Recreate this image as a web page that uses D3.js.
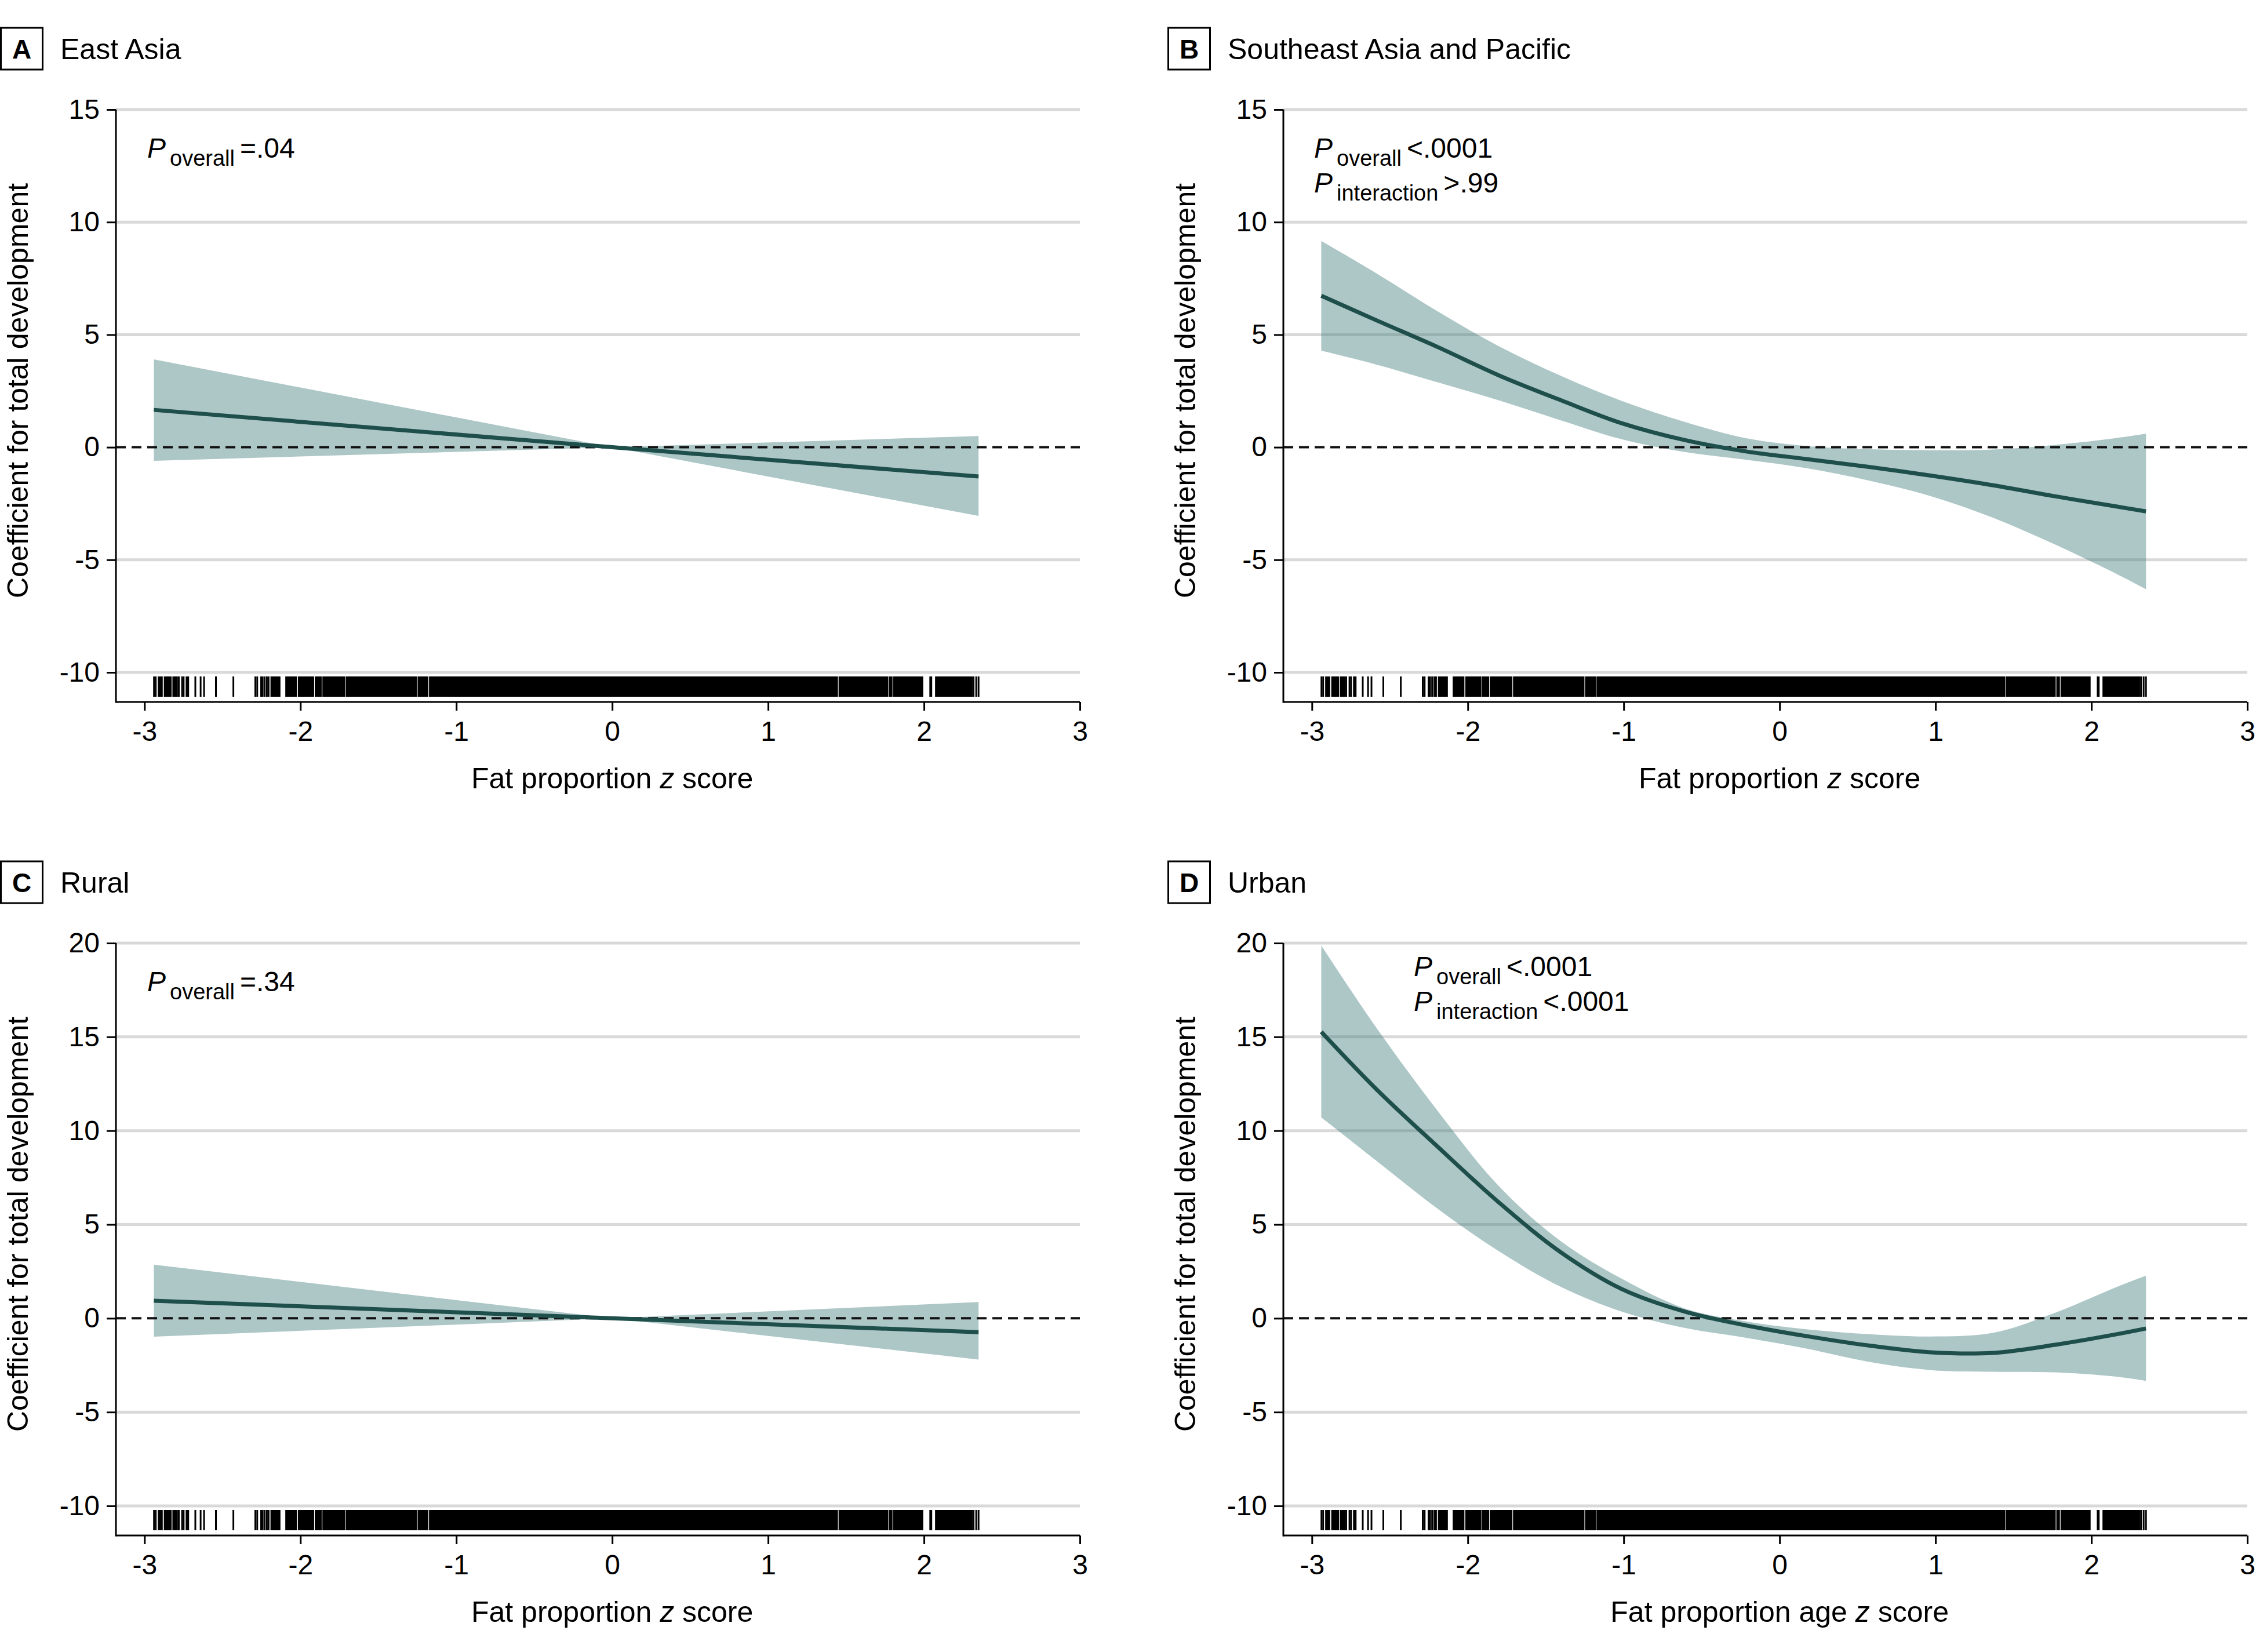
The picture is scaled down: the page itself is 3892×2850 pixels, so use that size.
<!DOCTYPE html>
<html><head><meta charset="utf-8">
<script src="https://cdn.jsdelivr.net/npm/d3@7"></script>
<style>
html,body{margin:0;padding:0;background:#fff;}
svg{display:block;}
text{font-family:"Liberation Sans", Arial, sans-serif; fill:#000;}
</style></head><body>
<svg id="chart" width="3892" height="2850"></svg>
<script>
// ---------------- DATA ----------------
const xTickValues = [-3, -2, -1, 0, 1, 2, 3];
const yTicksTop = [-10, -5, 0, 5, 10, 15];
const yTicksBottom = [-10, -5, 0, 5, 10, 15, 20];
const panelLetters = ["A", "B", "C", "D"];
const panelTitles = ["East Asia", "Southeast Asia and Pacific", "Rural", "Urban"];
const xTitleLead = ["Fat proportion ", "Fat proportion ", "Fat proportion ", "Fat proportion age "];
const yTitle = "Coefficient for total development";
const pOverall = ["=.04", "<.0001", "=.34", "<.0001"];
const pInteraction = [null, ">.99", null, "<.0001"];

// linear fits (panels A and C)
const xLinear = [-2.94, 0, 2.35];
const fitA  = [1.66, 0, -1.30];
const highA = [3.90, 0, 0.50];
const lowA  = [-0.60, 0, -3.05];
const fitC  = [0.94, 0, -0.74];
const highC = [2.86, 0, 0.87];
const lowC  = [-0.98, 0, -2.20];

// spline fits (panels B and D)
const xSpline = [-2.94, -2.59, -2.19, -1.80, -1.40, -1.01, -0.61, -0.22, 0.18, 0.58, 0.97, 1.37, 1.76, 2.16, 2.35];
const fitB  = [6.73, 5.65, 4.44, 3.19, 2.08, 1.06, 0.32, -0.18, -0.53, -0.88, -1.26, -1.69, -2.17, -2.63, -2.85];
const highB = [9.16, 7.74, 6.02, 4.48, 3.16, 2.05, 1.13, 0.41, 0.05, -0.09, -0.13, -0.10, 0.10, 0.41, 0.60];
const lowB  = [4.29, 3.68, 2.88, 2.08, 1.19, 0.35, -0.21, -0.55, -0.94, -1.49, -2.17, -3.13, -4.30, -5.62, -6.30];
const fitD  = [15.27, 12.24, 9.12, 6.17, 3.50, 1.55, 0.36, -0.37, -0.96, -1.46, -1.81, -1.84, -1.42, -0.85, -0.54];
const highD = [19.87, 15.53, 11.02, 7.04, 4.09, 2.10, 0.53, -0.16, -0.59, -0.85, -0.97, -0.77, 0.27, 1.66, 2.27];
const lowD  = [10.71, 8.42, 5.82, 3.57, 1.66, 0.35, -0.51, -1.03, -1.63, -2.33, -2.76, -2.85, -2.88, -3.11, -3.33];

// rug: sparse single observations and dense stretches
const rugTicks = [-2.939, -2.928, -2.780, -2.759, -2.749, -2.674, -2.640, -2.618, -2.542, -2.430,
  -2.289, -2.277, -2.252, -2.242, -2.229, -2.215, -2.204, 2.040, 2.047, 2.318, 2.335, 2.350];
const rugBlocks = [[-2.915, -2.883], [-2.876, -2.826], [-2.821, -2.786], [-2.736, -2.714],
  [-2.192, -2.128], [-2.097, -2.022], [-2.016, -1.912], [-1.908, -1.863], [-1.859, -1.714],
  [-1.710, -1.252], [-1.248, -1.179], [-1.175, 1.448], [1.452, 1.771], [1.775, 1.798],
  [1.802, 1.995], [2.071, 2.312]];

// ---------------- DRAW ----------------
const svg = d3.select("#chart");
const smooth = d3.curveCatmullRom.alpha(0.5);
const panels = [
  {xs: xLinear, fit: fitA, hi: highA, lo: lowA, yTicks: yTicksTop, col: 0, row: 0, curve: d3.curveLinear, px: 54, py: 272},
  {xs: xSpline, fit: fitB, hi: highB, lo: lowB, yTicks: yTicksTop, col: 1, row: 0, curve: smooth, px: 53, py: 272},
  {xs: xLinear, fit: fitC, hi: highC, lo: lowC, yTicks: yTicksBottom, col: 0, row: 1, curve: d3.curveLinear, px: 54, py: 272},
  {xs: xSpline, fit: fitD, hi: highD, lo: lowD, yTicks: yTicksBottom, col: 1, row: 1, curve: smooth, px: 225, py: 246}
];
const colOff = [0, 2014], rowOff = [0, 1438];

panels.forEach((p, i) => {
  const ox = colOff[p.col], oy = rowOff[p.row];
  const x = d3.scaleLinear().domain([-3, 3]).range([249.3 + ox, 1863 + ox]);
  const y = d3.scaleLinear().domain([-10, d3.max(p.yTicks)]).range([1160 + oy, 189 + oy]);
  const axisX = 200 + ox, axisY = 1211 + oy;
  const g = svg.append("g");

  // gridlines
  g.selectAll(".grid").data(p.yTicks.filter(t => t !== 0)).enter().append("line")
    .attr("x1", axisX).attr("x2", x(3)).attr("y1", d => y(d)).attr("y2", d => y(d))
    .attr("stroke", "#d9d9d9").attr("stroke-width", 5);

  // confidence band
  const rows = p.xs.map((xv, k) => ({x: xv, f: p.fit[k], hi: p.hi[k], lo: p.lo[k]}));
  g.append("path").datum(rows)
    .attr("d", d3.area().x(d => x(d.x)).y0(d => y(d.lo)).y1(d => y(d.hi)).curve(p.curve))
    .attr("fill", "rgb(60,120,118)").attr("fill-opacity", 0.42);

  // zero reference
  g.append("line").attr("x1", axisX).attr("x2", x(3)).attr("y1", y(0)).attr("y2", y(0))
    .attr("stroke", "#111").attr("stroke-width", 4).attr("stroke-dasharray", "17,10");

  // fit line
  g.append("path").datum(rows)
    .attr("d", d3.line().x(d => x(d.x)).y(d => y(d.f)).curve(p.curve))
    .attr("fill", "none").attr("stroke", "#1f4f4b").attr("stroke-width", 7);

  // rug
  const rugTop = axisY - 44, rugH = 35;
  g.selectAll(".rb").data(rugBlocks).enter().append("rect")
    .attr("x", d => x(d[0])).attr("width", d => x(d[1]) - x(d[0]))
    .attr("y", rugTop).attr("height", rugH).attr("fill", "#000");
  g.selectAll(".rt").data(rugTicks).enter().append("line")
    .attr("x1", d => x(d)).attr("x2", d => x(d)).attr("y1", rugTop).attr("y2", rugTop + rugH)
    .attr("stroke", "#000").attr("stroke-width", 3);

  // x axis
  const gx = g.append("g").attr("transform", `translate(0,${axisY})`)
    .call(d3.axisBottom(x).tickValues(xTickValues).tickSize(15).tickSizeOuter(0).tickFormat(d => String(d)));
  gx.select(".domain").remove();
  gx.selectAll(".tick line").attr("stroke", "#000").attr("stroke-width", 3);
  gx.selectAll(".tick text").attr("y", 67).attr("dy", null)
    .style("font-size", "48px").style("font-family", "Liberation Sans, Arial, sans-serif").attr("fill", "#000");
  g.append("line").attr("x1", axisX).attr("x2", x(3)).attr("y1", axisY).attr("y2", axisY)
    .attr("stroke", "#000").attr("stroke-width", 3);

  // y axis
  const gy = g.append("g").attr("transform", `translate(${axisX},0)`)
    .call(d3.axisLeft(y).tickValues(p.yTicks).tickSize(16).tickSizeOuter(0).tickFormat(d => String(d)));
  gy.select(".domain").remove();
  gy.selectAll(".tick line").attr("stroke", "#000").attr("stroke-width", 3);
  gy.selectAll(".tick text").attr("x", -28)
    .style("font-size", "48px").style("font-family", "Liberation Sans, Arial, sans-serif").attr("fill", "#000");
  g.append("line").attr("x1", axisX).attr("x2", axisX).attr("y1", y(d3.max(p.yTicks))).attr("y2", axisY + 1.5)
    .attr("stroke", "#000").attr("stroke-width", 3);

  // axis titles
  const xt = g.append("text").attr("x", x(0)).attr("y", 1360 + oy).attr("text-anchor", "middle")
    .style("font-size", "50px");
  xt.append("tspan").text(xTitleLead[i]);
  xt.append("tspan").style("font-style", "italic").text("z");
  xt.append("tspan").text(" score");

  g.append("text").attr("transform", `translate(${48 + ox},${674 + oy}) rotate(-90)`)
    .attr("text-anchor", "middle").style("font-size", "50px").text(yTitle);

  // panel header
  g.append("rect").attr("x", 1.5 + ox).attr("y", 48 + oy).attr("width", 72).attr("height", 72)
    .attr("fill", "none").attr("stroke", "#000").attr("stroke-width", 3);
  g.append("text").attr("x", 37.5 + ox).attr("y", 101 + oy).attr("text-anchor", "middle")
    .style("font-size", "46px").style("font-weight", "bold").text(panelLetters[i]);
  g.append("text").attr("x", 104 + ox).attr("y", 102 + oy).style("font-size", "50px").text(panelTitles[i]);

  // P annotations
  const addP = (sub, val, by) => {
    const t = g.append("text").attr("x", axisX + p.px).attr("y", by).style("font-size", "48px");
    t.append("tspan").style("font-style", "italic").text("P");
    t.append("tspan").attr("dx", 7).attr("dy", 14).style("font-size", "38px").text(sub);
    t.append("tspan").attr("dx", 9).attr("dy", -14).text(val);
  };
  addP("overall", pOverall[i], p.py + oy);
  if (pInteraction[i]) addP("interaction", pInteraction[i], p.py + oy + 60);
});
</script>
</body></html>
